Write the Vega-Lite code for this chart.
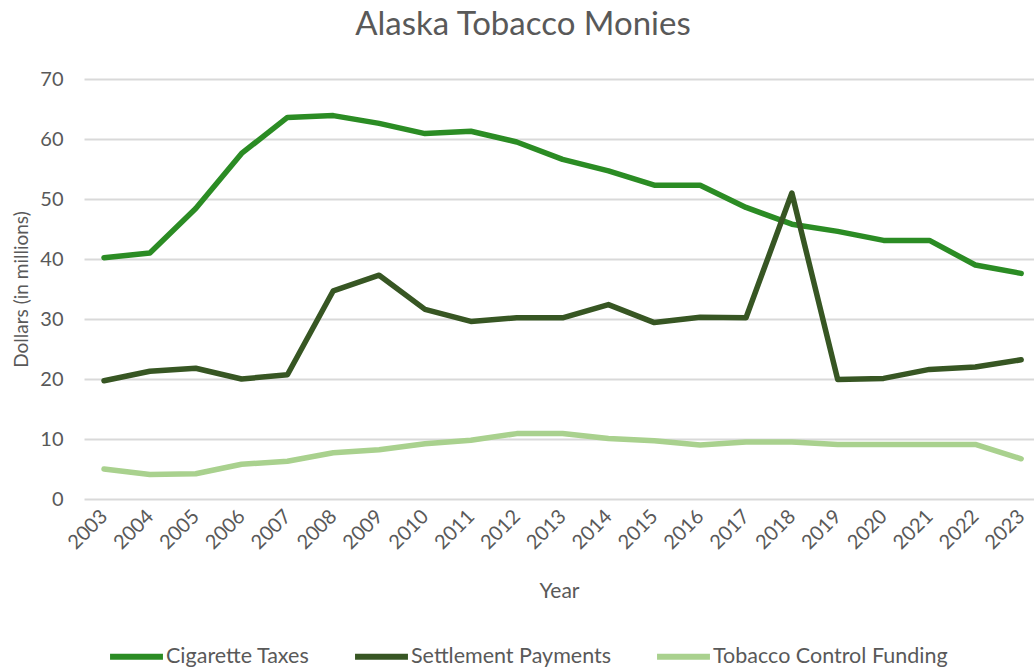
{
  "$schema": "https://vega.github.io/schema/vega-lite/v6.json",
  "width": 950,
  "height": 420,
  "autosize": {"type": "none"},
  "padding": {"left": 84, "top": 79, "right": 0, "bottom": 170},
  "background": "white",
  "title": {
    "text": "Alaska Tobacco Monies",
    "font": "Lato",
    "fontSize": 33,
    "fontWeight": "normal",
    "color": "#595959",
    "anchor": "middle",
    "frame": "group",
    "dx": -36,
    "baseline": "alphabetic",
    "offset": 1
  },
  "data": {
    "values": [
      {"year": 2003, "series": "Cigarette Taxes", "value": 40.2},
      {"year": 2004, "series": "Cigarette Taxes", "value": 41.0},
      {"year": 2005, "series": "Cigarette Taxes", "value": 48.4},
      {"year": 2006, "series": "Cigarette Taxes", "value": 57.6},
      {"year": 2007, "series": "Cigarette Taxes", "value": 63.6},
      {"year": 2008, "series": "Cigarette Taxes", "value": 63.9},
      {"year": 2009, "series": "Cigarette Taxes", "value": 62.6},
      {"year": 2010, "series": "Cigarette Taxes", "value": 60.9},
      {"year": 2011, "series": "Cigarette Taxes", "value": 61.3},
      {"year": 2012, "series": "Cigarette Taxes", "value": 59.5},
      {"year": 2013, "series": "Cigarette Taxes", "value": 56.6},
      {"year": 2014, "series": "Cigarette Taxes", "value": 54.7},
      {"year": 2015, "series": "Cigarette Taxes", "value": 52.3},
      {"year": 2016, "series": "Cigarette Taxes", "value": 52.3},
      {"year": 2017, "series": "Cigarette Taxes", "value": 48.6},
      {"year": 2018, "series": "Cigarette Taxes", "value": 45.8},
      {"year": 2019, "series": "Cigarette Taxes", "value": 44.6},
      {"year": 2020, "series": "Cigarette Taxes", "value": 43.1},
      {"year": 2021, "series": "Cigarette Taxes", "value": 43.1},
      {"year": 2022, "series": "Cigarette Taxes", "value": 39.0},
      {"year": 2023, "series": "Cigarette Taxes", "value": 37.6},
      {"year": 2003, "series": "Settlement Payments", "value": 19.7},
      {"year": 2004, "series": "Settlement Payments", "value": 21.3},
      {"year": 2005, "series": "Settlement Payments", "value": 21.8},
      {"year": 2006, "series": "Settlement Payments", "value": 20.0},
      {"year": 2007, "series": "Settlement Payments", "value": 20.7},
      {"year": 2008, "series": "Settlement Payments", "value": 34.7},
      {"year": 2009, "series": "Settlement Payments", "value": 37.3},
      {"year": 2010, "series": "Settlement Payments", "value": 31.6},
      {"year": 2011, "series": "Settlement Payments", "value": 29.6},
      {"year": 2012, "series": "Settlement Payments", "value": 30.2},
      {"year": 2013, "series": "Settlement Payments", "value": 30.2},
      {"year": 2014, "series": "Settlement Payments", "value": 32.4},
      {"year": 2015, "series": "Settlement Payments", "value": 29.4},
      {"year": 2016, "series": "Settlement Payments", "value": 30.3},
      {"year": 2017, "series": "Settlement Payments", "value": 30.2},
      {"year": 2018, "series": "Settlement Payments", "value": 51.0},
      {"year": 2019, "series": "Settlement Payments", "value": 19.9},
      {"year": 2020, "series": "Settlement Payments", "value": 20.1},
      {"year": 2021, "series": "Settlement Payments", "value": 21.6},
      {"year": 2022, "series": "Settlement Payments", "value": 22.0},
      {"year": 2023, "series": "Settlement Payments", "value": 23.2},
      {"year": 2003, "series": "Tobacco Control Funding", "value": 5.0},
      {"year": 2004, "series": "Tobacco Control Funding", "value": 4.1},
      {"year": 2005, "series": "Tobacco Control Funding", "value": 4.2},
      {"year": 2006, "series": "Tobacco Control Funding", "value": 5.8},
      {"year": 2007, "series": "Tobacco Control Funding", "value": 6.3},
      {"year": 2008, "series": "Tobacco Control Funding", "value": 7.7},
      {"year": 2009, "series": "Tobacco Control Funding", "value": 8.2},
      {"year": 2010, "series": "Tobacco Control Funding", "value": 9.2},
      {"year": 2011, "series": "Tobacco Control Funding", "value": 9.8},
      {"year": 2012, "series": "Tobacco Control Funding", "value": 10.9},
      {"year": 2013, "series": "Tobacco Control Funding", "value": 10.9},
      {"year": 2014, "series": "Tobacco Control Funding", "value": 10.1},
      {"year": 2015, "series": "Tobacco Control Funding", "value": 9.7},
      {"year": 2016, "series": "Tobacco Control Funding", "value": 9.0},
      {"year": 2017, "series": "Tobacco Control Funding", "value": 9.5},
      {"year": 2018, "series": "Tobacco Control Funding", "value": 9.5},
      {"year": 2019, "series": "Tobacco Control Funding", "value": 9.1},
      {"year": 2020, "series": "Tobacco Control Funding", "value": 9.1},
      {"year": 2021, "series": "Tobacco Control Funding", "value": 9.1},
      {"year": 2022, "series": "Tobacco Control Funding", "value": 9.1},
      {"year": 2023, "series": "Tobacco Control Funding", "value": 6.7}
    ]
  },
  "mark": {"type": "line", "strokeWidth": 5.5, "strokeCap": "round", "strokeJoin": "round"},
  "encoding": {
    "x": {
      "field": "year",
      "type": "quantitative",
      "scale": {"domain": [2002.564, 2023.28], "nice": false, "zero": false},
      "axis": {
        "title": "Year",
        "values": [2003, 2004, 2005, 2006, 2007, 2008, 2009, 2010, 2011, 2012, 2013, 2014, 2015, 2016, 2017, 2018, 2019, 2020, 2021, 2022, 2023],
        "format": "d",
        "grid": false,
        "domain": false,
        "ticks": false,
        "labelOverlap": false,
        "labelAngle": -45,
        "labelAlign": "right",
        "labelBaseline": "middle",
        "labelPadding": 14,
        "labelDx": 4,
        "labelFont": "Lato",
        "labelFontSize": 20,
        "labelColor": "#595959",
        "titleFont": "Lato",
        "titleFontSize": 21,
        "titleFontWeight": "normal",
        "titleColor": "#595959",
        "titlePadding": 28
      }
    },
    "y": {
      "field": "value",
      "type": "quantitative",
      "scale": {"domain": [0, 70], "nice": false},
      "axis": {
        "title": "Dollars (in millions)",
        "values": [0, 10, 20, 30, 40, 50, 60, 70],
        "grid": true,
        "gridColor": "#d9d9d9",
        "gridWidth": 1.8,
        "domain": false,
        "ticks": false,
        "labelPadding": 21,
        "labelFont": "Lato",
        "labelFontSize": 20,
        "labelColor": "#595959",
        "titleFont": "Lato",
        "titleFontSize": 19,
        "titleFontWeight": "normal",
        "titleColor": "#595959",
        "titlePadding": 8
      }
    },
    "color": {
      "field": "series",
      "type": "nominal",
      "scale": {
        "domain": ["Cigarette Taxes", "Settlement Payments", "Tobacco Control Funding"],
        "range": ["#2B8C24", "#375623", "#A9D18E"]
      },
      "legend": {
        "title": null,
        "orient": "none",
        "direction": "horizontal",
        "legendX": 23,
        "legendY": 548,
        "symbolType": "stroke",
        "symbolSize": 2800,
        "symbolStrokeWidth": 6,
        "labelFont": "Lato",
        "labelFontSize": 21.5,
        "labelLimit": 0,
        "labelColor": "#595959",
        "labelOffset": 0,
        "columnPadding": 33,
        "padding": 0
      }
    }
  },
  "config": {"view": {"stroke": null}}
}
